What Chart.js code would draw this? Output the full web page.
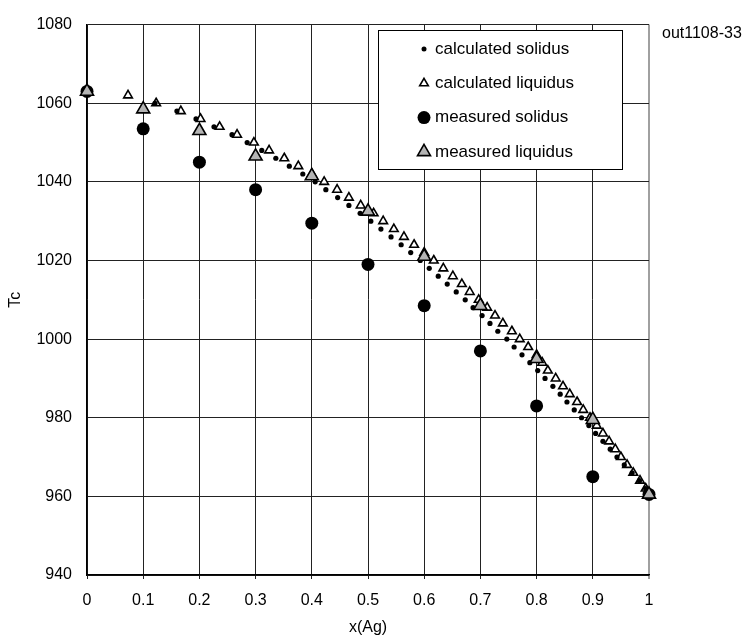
<!DOCTYPE html>
<html>
<head>
<meta charset="utf-8">
<script src="https://cdn.jsdelivr.net/npm/chart.js@4.4.1/dist/chart.umd.min.js"></script>
<style>
html,body{margin:0;padding:0;background:#fff;}
#wrap{position:relative;width:753px;height:640px;}
#note{position:absolute;left:662px;top:24px;font:16px "Liberation Sans",Arial,sans-serif;color:#000;white-space:nowrap;}
</style>
</head>
<body>
<div id="wrap">
<canvas id="phaseChart" width="753" height="640"></canvas>
<div id="note">out1108-33</div>
</div>
<script>
// ----- data -----

const xTickLabels = ["0","0.1","0.2","0.3","0.4","0.5","0.6","0.7","0.8","0.9","1"];
const yTickLabels = ["940","960","980","1000","1020","1040","1060","1080"];

const legendLabels = ["calculated solidus","calculated liquidus","measured solidus","measured liquidus"];

const calcSolidusX = [0,0.121,0.160,0.194,0.226,0.258,0.285,0.311,0.336,0.360,0.384,0.406,0.425,0.446,0.466,0.486,0.505,0.523,0.541,0.559,0.576,0.593,0.609,0.625,0.641,0.657,0.673,0.687,0.703,0.717,0.731,0.747,0.760,0.774,0.788,0.802,0.815,0.829,0.842,0.854,0.867,0.880,0.893,0.905,0.918,0.931,0.943,0.956,0.970,0.983,0.994,1];
const calcSolidusT = [1063,1060,1058,1056,1054,1052,1050,1048,1046,1044,1042,1040,1038,1036,1034,1032,1030,1028,1026,1024,1022,1020,1018,1016,1014,1012,1010,1008,1006,1004,1002,1000,998,996,994,992,990,988,986,984,982,980,978,976,974,972,970,968,966,964,962,960.5];

const calcLiquidusX = [0,0.073,0.123,0.167,0.202,0.236,0.267,0.297,0.324,0.351,0.376,0.400,0.422,0.445,0.466,0.487,0.510,0.527,0.546,0.564,0.582,0.600,0.617,0.634,0.651,0.667,0.681,0.697,0.712,0.726,0.740,0.756,0.770,0.785,0.800,0.810,0.820,0.834,0.847,0.859,0.872,0.883,0.895,0.907,0.918,0.929,0.940,0.950,0.961,0.972,0.984,0.994,1];
const calcLiquidusT = [1063,1062,1060,1058,1056,1054,1052,1050,1048,1046,1044,1042,1040,1038,1036,1034,1032,1030,1028,1026,1024,1022,1020,1018,1016,1014,1012,1010,1008,1006,1004,1002,1000,998,996,994,992,990,988,986,984,982,980,978,976,974,972,970,968,966,964,962,960.5];

const measuredX = [0,0.1,0.2,0.3,0.4,0.5,0.6,0.7,0.8,0.9,1];
const measuredSolidusT = [1063,1053.5,1045,1038,1029.5,1019,1008.5,997,983,965,960.5];
const measuredLiquidusT = [1063,1058.5,1053,1046.5,1041.5,1032.5,1021,1008.5,995,979.5,960.5];

// ----- helpers -----

function toPoints(xs, ys){
return xs.map((x,i)=>({x:x, y:ys[i]}));
}

const FONT = '"Liberation Sans", Arial, sans-serif';

// legend drawn inside the plot, as in the reference
const legendRadius = [2.5,5,6.5,7.5];

const insideLegend = {
id:"insideLegend",
afterDatasetsDraw(chart){
const ctx = chart.ctx;
ctx.save();
ctx.fillStyle = "#fff";
ctx.strokeStyle = "#000";
ctx.lineWidth = 1;
ctx.fillRect(378.5,30.5,244,139);
ctx.strokeRect(378.5,30.5,244,139);
legendLabels.forEach((txt,i)=>{
const ds = chart.data.datasets[i];
const y = 49 + i*34.3;
ctx.fillStyle = ds.backgroundColor;
ctx.strokeStyle = ds.borderColor;
ctx.lineWidth = ds.borderWidth;
Chart.helpers.drawPoint(ctx,{pointStyle:ds.pointStyle,radius:legendRadius[i],rotation:0,borderWidth:ds.borderWidth},424,y);
ctx.fillStyle = "#000";
ctx.font = "17px " + FONT;
ctx.textBaseline = "middle";
ctx.textAlign = "left";
ctx.fillText(txt,435,y);
});
ctx.restore();
}
};

// ----- chart -----

const ctx = document.getElementById("phaseChart").getContext("2d");

new Chart(ctx,{

type:"scatter",

data:{
datasets:[
{
label:legendLabels[0],
data:toPoints(calcSolidusX,calcSolidusT),
pointStyle:"circle",
pointRadius:2.6,
backgroundColor:"#000",
borderColor:"#000",
borderWidth:0,
clip:false,
order:2
},
{
label:legendLabels[1],
data:toPoints(calcLiquidusX,calcLiquidusT),
pointStyle:"triangle",
pointRadius:5,
backgroundColor:"#fff",
borderColor:"#000",
borderWidth:1.6,
clip:false,
order:3
},
{
label:legendLabels[2],
data:toPoints(measuredX,measuredSolidusT),
pointStyle:"circle",
pointRadius:6.5,
backgroundColor:"#000",
borderColor:"#000",
borderWidth:0,
clip:false,
order:1
},
{
label:legendLabels[3],
data:toPoints(measuredX,measuredLiquidusT),
pointStyle:"triangle",
pointRadius:7.5,
backgroundColor:"#b4b4b4",
borderColor:"#000",
borderWidth:1.6,
clip:false,
order:0
}
]
},

options:{
responsive:false,
animation:false,
layout:{padding:{left:0,right:104,top:17,bottom:0}},
plugins:{
legend:{display:false},
tooltip:{enabled:false}
},
scales:{
x:{
type:"linear",
min:0,
max:1,
ticks:{
stepSize:0.1,
padding:12,
color:"#000",
font:{family:FONT,size:16},
maxRotation:0,
callback:(v,i)=>xTickLabels[i]
},
grid:{
color:(c)=> (c.tick && c.tick.value===1) ? "#a0a0a0" : "#222",
lineWidth:(c)=> (c.tick && c.tick.value===1) ? 2 : 1,
tickLength:4,
drawTicks:true
},
border:{color:"#000",width:1.5},
title:{
display:true,
text:"x(Ag)",
color:"#000",
font:{family:FONT,size:16},
padding:{top:0,bottom:3}
},
afterFit:(s)=>{ s.height = 65; }
},
y:{
min:940,
max:1080,
ticks:{
stepSize:20,
padding:15,
color:"#000",
font:{family:FONT,size:16},
callback:(v,i)=>yTickLabels[i]
},
grid:{
color:"#222",
lineWidth:1,
drawTicks:false
},
border:{color:"#000",width:1.5},
title:{
display:true,
text:"Tc",
color:"#000",
font:{family:FONT,size:16},
padding:{top:6,bottom:0}
},
afterFit:(s)=>{ s.width = 87; }
}
}
},

plugins:[insideLegend]

});
</script>
</body>
</html>
